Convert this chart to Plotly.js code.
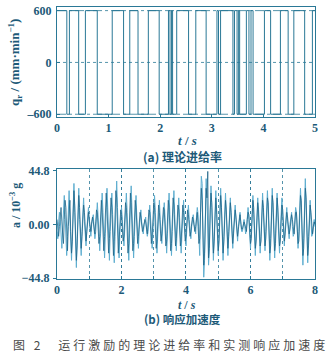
<!DOCTYPE html>
<html>
<head>
<meta charset="utf-8">
<script src="https://cdn.plot.ly/plotly-3.0.1.min.js"></script>
<style>
html,body{margin:0;padding:0;background:#fff;}
#chart{width:329px;height:362px;}
</style>
</head>
<body>
<div id="chart"></div>
<script>
// ---- (a) theoretical feed rate: switching instants (s), signal starts at +600 ----
var feedSwitchTimes = [0.19, 0.24, 0.42, 0.55, 0.78, 1.07, 1.29, 1.41, 1.57, 1.77, 1.98, 2.16, 2.19, 2.22, 2.24, 2.32, 2.55, 2.69, 2.89, 3.10, 3.13, 3.17, 3.41, 3.44, 3.49, 3.52, 3.54, 3.67, 3.72, 3.76, 3.80, 4.02, 4.14, 4.33, 4.48, 4.59, 4.80, 4.95];
var feedLevels = [600, -600];
var feedEnd = 5;
var feedTicks = [0, 1, 2, 3, 4, 5];
var feedYTicks = [600, 0, -600];
var feedYTickText = ["600", "0", "\u2013600"];

// ---- (b) measured response acceleration (10^-3 g), sampled every 0.025 s ----
var accDt = 0.025;
var accLight = [
-6,-12,2,10,4,-14,-20,-4,16,24,8,-18,-26,-10,20,28,6,-22,-30,-8,
26,34,10,-24,-36,-12,22,30,4,-20,-26,-6,18,22,2,-16,-18,-4,12,14,
2,-8,-10,0,6,8,-4,-12,-6,10,18,6,-16,-22,-8,18,26,10,-20,-28,
-8,22,30,12,-24,-30,-6,20,26,8,-26,-32,-10,24,36,14,-22,-28,-6,10,
14,4,-12,-18,-4,16,26,10,-22,-30,-8,24,32,12,-20,-28,-10,18,24,6,
-16,-20,-4,10,12,2,-6,-8,0,4,6,-4,-10,-6,10,16,6,-14,-20,-6,
16,24,10,-18,-24,-8,14,20,4,-12,-16,-2,12,18,6,-16,-24,-8,20,26,
8,-20,-26,-6,22,28,8,-18,-22,-4,16,22,6,-20,-24,-8,18,20,4,-14,
-18,-4,12,16,4,-10,-12,-2,6,8,0,-6,-8,6,14,8,-18,-26,10,40,
34,-20,-44,-30,18,38,24,-16,-34,-20,20,32,14,-22,-30,-10,22,28,8,-20,
-26,-8,20,30,12,-22,-30,-10,18,26,8,-20,-26,-6,16,22,6,-16,-20,-4,
12,16,4,-10,-14,-2,8,10,0,-6,-6,2,4,-2,-8,-4,10,14,4,-14,
-20,-6,18,24,8,-20,-26,-8,16,22,6,-18,-24,-10,20,26,10,-16,-22,-6,
18,28,12,-22,-30,-12,20,30,10,-24,-28,-8,22,26,6,-18,-24,-6,16,22,
6,-14,-18,-4,12,14,2,-10,-12,0,8,10,-2,-10,-8,6,14,10,-14,-20,
-6,20,30,14,-24,-34,-12,28,38,16,-26,-32,-10,18,20,4,-10,-8,2,4,-2
];
var accDark = [
4,-4,-10,-2,8,14,2,-14,-16,4,20,14,-12,-22,-2,18,20,-6,-24,-14,
12,28,16,-14,-30,-18,10,24,14,-12,-20,-10,8,16,10,-8,-14,-6,6,10,
4,-4,-6,2,6,2,-6,-8,2,12,10,-6,-16,-10,8,20,12,-12,-22,-10,
14,26,14,-14,-24,-12,12,22,14,-16,-26,-14,12,28,22,-8,-24,-14,4,12,
8,-6,-14,-10,6,18,14,-10,-24,-16,12,26,18,-10,-22,-16,8,20,14,-8,
-16,-10,4,10,6,-2,-6,-4,2,4,2,-6,-8,2,12,10,-6,-16,-10,8,
18,14,-8,-20,-14,6,16,10,-6,-14,-8,6,14,12,-6,-18,-14,8,20,14,
-8,-22,-16,8,22,16,-6,-18,-12,6,16,12,-8,-18,-14,6,16,10,-6,-14,
-10,4,12,8,-4,-10,-6,2,6,4,-2,-6,-2,8,10,-2,-16,-12,14,30,
20,-8,-34,-24,8,30,22,44,-28,-18,12,26,18,-12,-24,-14,12,22,12,-10,
-22,-14,10,24,14,-10,-24,-14,8,20,12,-10,-20,-10,8,18,10,-8,-16,-8,
6,12,6,-6,-10,-4,4,8,2,-4,-4,0,2,0,-4,-6,4,10,8,-8,
-16,-12,8,20,14,-8,-20,-14,6,18,12,-8,-18,-14,8,20,14,-8,-18,-12,
6,22,18,-8,-24,-18,8,24,18,-10,-22,-16,10,22,14,-8,-18,-14,6,16,
12,-6,-14,-8,4,10,6,-4,-8,-4,4,8,4,-4,-8,0,10,10,-6,-16,
-14,8,24,20,-8,-26,-20,10,30,22,-10,-26,-18,8,16,10,-4,-8,-2,2,0
];
var accTicks = [0, 2, 4, 6, 8];
var accMinorStep = 1;
var accYTicks = [44.8, 0, -44.8];
var accYTickText = ["44.8", "0.00", "\u221244.8"];

// build step series from switching times
var feedX = [0], feedY = [feedLevels[0]];
for (var i = 0; i < feedSwitchTimes.length; i++) {
  feedX.push(feedSwitchTimes[i]);
  feedY.push(feedLevels[(i + 1) % 2]);
}
feedX.push(feedEnd);
feedY.push(feedY[feedY.length - 1]);

var teal = '#2a7896';
var txt = '#1d5a78';
var serif = 'Liberation Serif, Times New Roman, serif';
var cjk = 'Noto Sans CJK SC, sans-serif';

var traces = [
  {x: feedX, y: feedY, type: 'scatter', mode: 'lines', line: {shape: 'hv', color: teal, width: 1}, xaxis: 'x', yaxis: 'y', hoverinfo: 'skip'},
  {y: accLight, x0: 0, dx: accDt, type: 'scatter', mode: 'lines', line: {color: '#5eaed0', width: 1}, xaxis: 'x2', yaxis: 'y2', hoverinfo: 'skip'},
  {y: accDark, x0: 0, dx: accDt, type: 'scatter', mode: 'lines', line: {color: '#1f6488', width: 0.8}, xaxis: 'x2', yaxis: 'y2', hoverinfo: 'skip'}
];

var tickFont = {family: serif, size: 12, color: txt, weight: 'bold'};
var axBase = {showline: true, linecolor: teal, linewidth: 1, mirror: true, zeroline: false, tickcolor: teal, tickfont: tickFont, fixedrange: true};

var layout = {
  width: 329, height: 362,
  margin: {l: 0, r: 0, t: 0, b: 0},
  paper_bgcolor: '#fff', plot_bgcolor: '#fff',
  showlegend: false,
  xaxis: Object.assign({}, axBase, {domain: [0.1733, 0.9574], anchor: 'y', range: [0, 5], tickvals: feedTicks, ticks: 'inside', ticklen: 3, showgrid: false, ticklabelstandoff: 0}),
  yaxis: Object.assign({}, axBase, {domain: [0.6768, 0.9807], anchor: 'x', range: [-632, 642], tickvals: feedYTicks, ticktext: feedYTickText, ticks: 'inside', ticklen: 3, showgrid: false, ticklabelstandoff: 2}),
  xaxis2: Object.assign({}, axBase, {domain: [0.1733, 0.9574], anchor: 'y2', range: [0, 8], tickvals: accTicks, ticks: 'inside', ticklen: 3, showgrid: true, gridcolor: teal, griddash: 'dot', gridwidth: 0.8, ticklabelstandoff: 0,
    minor: {dtick: accMinorStep, tick0: 0, ticks: 'inside', ticklen: 3, tickcolor: teal, showgrid: true, gridcolor: teal, griddash: 'dot', gridwidth: 0.8}}),
  yaxis2: Object.assign({}, axBase, {domain: [0.2293, 0.5331], anchor: 'x2', range: [-45.5, 46], tickvals: accYTicks, ticktext: accYTickText, ticks: 'outside', ticklen: 3, showgrid: false, ticklabelstandoff: 1}),
  shapes: [
    {type: 'line', xref: 'x', yref: 'y', x0: 0, x1: 5, y0: 600, y1: 600, line: {color: teal, width: 0.8, dash: 'dashdot'}, layer: 'below'},
    {type: 'line', xref: 'x', yref: 'y', x0: 0, x1: 5, y0: -600, y1: -600, line: {color: teal, width: 0.8, dash: 'dashdot'}, layer: 'below'},
    {type: 'line', xref: 'x', yref: 'y', x0: 0, x1: 5, y0: 0, y1: 0, line: {color: teal, width: 0.8, dash: 'dot'}, layer: 'below'}
  ],
  annotations: [
    {text: 'q<sub>r</sub> / (mm\u00b7min<sup>\u22121</sup>)', xref: 'paper', yref: 'paper', x: 15/329, y: 1 - 63/362, textangle: -90, showarrow: false, font: {family: serif, size: 13, color: txt, weight: 'bold'}, xanchor: 'center', yanchor: 'middle'},
    {text: '<i>t</i> / <i>s</i>', xref: 'paper', yref: 'paper', x: 187/329, y: 1 - 140/362, showarrow: false, font: {family: serif, size: 13, color: txt, weight: 'bold'}, xanchor: 'center', yanchor: 'middle'},
    {text: '(a) 理论进给率', xref: 'paper', yref: 'paper', x: 182/329, y: 1 - 156/362, showarrow: false, font: {family: cjk, size: 12, color: txt, weight: 'bold'}, xanchor: 'center', yanchor: 'middle'},
    {text: 'a / 10<sup>\u22123</sup> g', xref: 'paper', yref: 'paper', x: 15/329, y: 1 - 206/362, textangle: -90, showarrow: false, font: {family: serif, size: 12, color: txt, weight: 'bold'}, xanchor: 'center', yanchor: 'middle'},
    {text: '<i>t</i> / <i>s</i>', xref: 'paper', yref: 'paper', x: 187/329, y: 1 - 304.5/362, showarrow: false, font: {family: serif, size: 12, color: txt, weight: 'bold'}, xanchor: 'center', yanchor: 'middle'},
    {text: '(b) 响应加速度', xref: 'paper', yref: 'paper', x: 182/329, y: 1 - 319/362, showarrow: false, font: {family: cjk, size: 11.5, color: txt, weight: 'bold'}, xanchor: 'center', yanchor: 'middle'},
    {text: '图 2　运行激励的理论进给率和实测响应加速度', xref: 'paper', yref: 'paper', x: 170/329, y: 1 - 344/362, showarrow: false, font: {family: cjk, size: 12, color: '#4a4a4a'}, xanchor: 'center', yanchor: 'middle'}
  ]
};

Plotly.newPlot('chart', traces, layout, {displayModeBar: false, staticPlot: true}).then(function () {
  var nodes = document.querySelectorAll('.annotation-text');
  nodes.forEach(function (n) {
    if (n.textContent.indexOf('图') === 0) { n.style.letterSpacing = '3px'; }
  });
});
</script>
</body>
</html>
